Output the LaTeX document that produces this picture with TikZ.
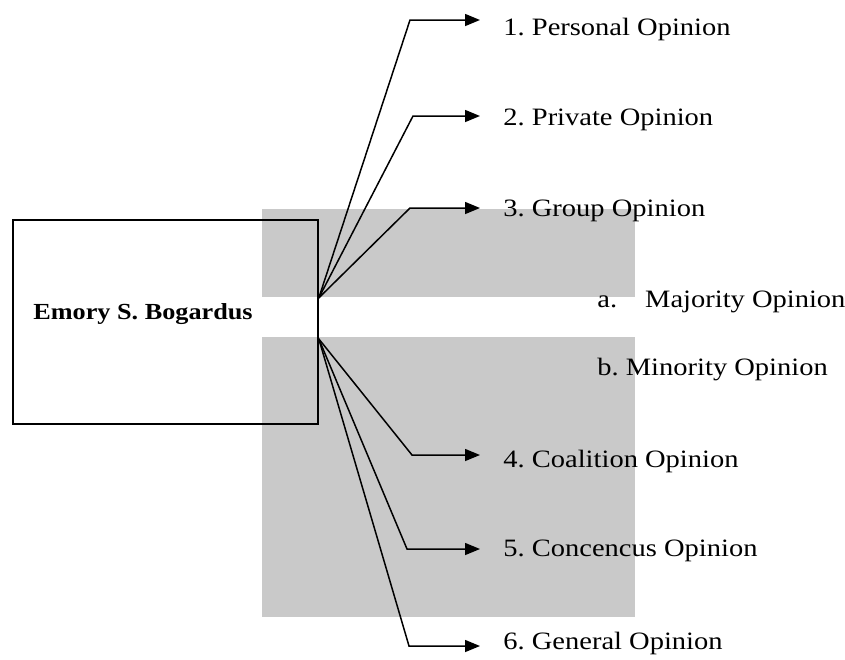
\documentclass[tikz,border=0pt]{standalone}
\usepackage{fontspec}
\setmainfont{Liberation Serif}[FakeStretch=1.14]
\frenchspacing
\usetikzlibrary{arrows.meta}

\begin{document}
\begin{tikzpicture}[x=0.5pt,y=-0.5pt,
  opinion/.style={anchor=west,inner sep=0pt,font=\fontsize{12.5}{15}\selectfont},
  link/.style={line width=0.75pt,-{Triangle[length=7.5pt,width=6pt]},shorten >=11.5pt},
  shade/.style={fill=black!21,draw=none}]

\useasboundingbox (0,0) rectangle (845,659);

% grey blocks behind the fan
\fill[shade] (262,209) rectangle (635,297);
\fill[shade] (262,337) rectangle (635,617);

\node[draw,line width=0.9pt,minimum width=152.5pt,minimum height=102pt,anchor=north west,inner sep=0pt] (bogardus) at (12,219) {};
\node[anchor=west,inner sep=0pt,font=\fontsize{11.5}{14}\selectfont\bfseries] (name) at (33,314) {Emory S. Bogardus};

\coordinate (up) at ([yshift=12pt]bogardus.east);
\coordinate (down) at ([yshift=-8.5pt]bogardus.east);

\node[opinion] (o1) at (503,29) {1. Personal Opinion};
\node[opinion] (o2) at (503,120) {2. Private Opinion};
\node[opinion] (o3) at (503,211) {3. Group Opinion};
\node[opinion] (maj) at (597,302) {a.\hspace{14pt}Majority Opinion};
\node[opinion] (min) at (597,370) {b. Minority Opinion};
\node[opinion] (o4) at (503,461) {4. Coalition Opinion};
\node[opinion] (o5) at (503,551) {5. Concencus Opinion};
\node[opinion] (o6) at (503,643) {6. General Opinion};

\coordinate (k1) at (410,20);
\coordinate (k2) at (413,116);
\coordinate (k3) at (410,208);
\coordinate (k4) at (412,455);
\coordinate (k5) at (407,549);
\coordinate (k6) at (409,646);

\draw[link] (up) -- (k1) -- (k1 -| o1.west);
\draw[link] (up) -- (k2) -- (k2 -| o2.west);
\draw[link] (up) -- (k3) -- (k3 -| o3.west);

\draw[link] (down) -- (k4) -- (k4 -| o4.west);
\draw[link] (down) -- (k5) -- (k5 -| o5.west);
\draw[link] (down) -- (k6) -- (k6 -| o6.west);

\end{tikzpicture}
\end{document}
